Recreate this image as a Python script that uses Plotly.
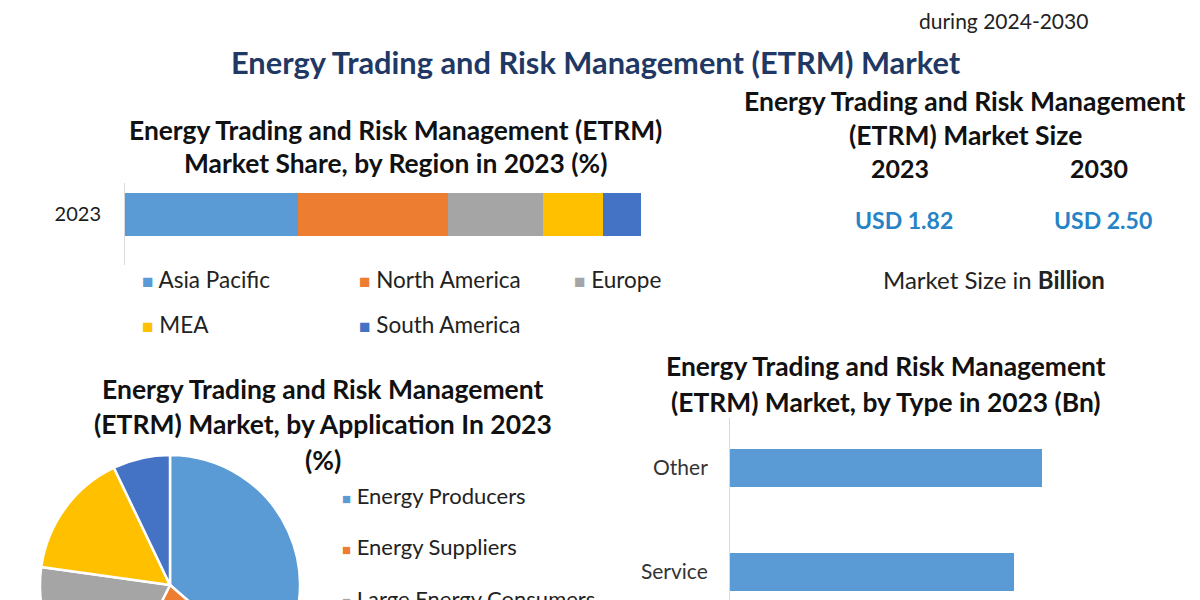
import plotly.graph_objects as go

W, H = 1200, 720  # page shows top 600px, like the cropped infographic

# ---------------- data ----------------
regions = ["Asia Pacific", "North America", "Europe", "MEA", "South America"]
region_share = [33.5, 29.0, 18.6, 11.5, 7.4]
region_colors = ["#5B9BD5", "#ED7D31", "#A5A5A5", "#FFC000", "#4472C4"]
region_year = ["2023"]

applications = ["Energy Producers", "Energy Suppliers", "Large Energy Consumers",
                "Energy Traders", "Others"]
application_share = [36.4, 21.0, 19.8, 15.7, 7.1]

types = ["Service", "Other"]
type_values = [0.71, 0.78]

size_years = ["2023", "2030"]
size_values = ["USD 1.82", "USD 2.50"]

FONT = "Lato"


def px(x):
    return x / W


def py(y):
    return (H - y) / H


fig = go.Figure()

# stacked region bar
for name, val, col in zip(regions, region_share, region_colors):
    fig.add_trace(go.Bar(
        x=[val], y=region_year, orientation="h", name=name,
        marker=dict(color=col, line=dict(width=0)), width=0.5,
        xaxis="x", yaxis="y", showlegend=False, hoverinfo="x+name"))

# type bar
fig.add_trace(go.Bar(
    x=type_values, y=types, orientation="h", width=0.36,
    marker=dict(color="#5B9BD5", line=dict(width=0)),
    xaxis="x2", yaxis="y2", showlegend=False))

# application pie
fig.add_trace(go.Pie(
    labels=applications, values=application_share, sort=False,
    direction="clockwise", rotation=0, textinfo="none",
    marker=dict(colors=region_colors, line=dict(color="white", width=2.5)),
    domain=dict(x=[px(40), px(300)], y=[py(715), py(455)]),
    showlegend=False))

fig.update_layout(
    width=W, height=H, margin=dict(l=0, r=0, t=0, b=0),
    paper_bgcolor="white", plot_bgcolor="white", barmode="stack",
    font=dict(family=FONT, color="#222"),
    xaxis=dict(domain=[px(125), px(641)], range=[0, 100], visible=False,
               fixedrange=True),
    yaxis=dict(domain=[py(265), py(183)], range=[-0.587, 0.366],
               showline=True, linecolor="#D9D9D9", linewidth=1,
               showgrid=False, zeroline=False, ticks="outside",
               ticklen=19, tickcolor="rgba(0,0,0,0)",
               tickfont=dict(size=20, color="#1a1a1a", family=FONT)),
    xaxis2=dict(domain=[px(730), px(1130)], range=[0, 1], visible=False,
                anchor="y2"),
    yaxis2=dict(domain=[py(620), py(418)], range=[-0.4615, 1.481],
                anchor="x2", showline=True, linecolor="#D9D9D9", linewidth=1,
                showgrid=False, zeroline=False, ticks="outside",
                ticklen=17, tickcolor="rgba(0,0,0,0)",
                tickfont=dict(size=21, color="#333", family=FONT)),
)

ann = []


def text(x, y, s, size, color="#111", bold=False, xanchor="center"):
    if bold:
        s = "<b>" + s + "</b>"
    ann.append(dict(x=px(x), y=py(y), xref="paper", yref="paper", text=s,
                    showarrow=False, xanchor=xanchor, yanchor="middle",
                    font=dict(size=size, color=color, family=FONT)))


text(1003, 20, "during 2024-2030", 21, "#222")
text(596, 62, "Energy Trading and Risk Management (ETRM) Market", 30.8,
     "#1F3864", bold=True)

# region chart title + legend
text(395, 130, "Energy Trading and Risk Management (ETRM)", 26.4, bold=True)
text(395, 163, "Market Share, by Region in 2023 (%)", 26.4, bold=True)
leg_pos = [(140, 280), (357, 280), (572, 280), (140, 325), (357, 325)]
for name, col, (lx, ly) in zip(regions, region_colors, leg_pos):
    text(lx, ly, '<span style="color:%s;font-size:19px">■</span> %s' % (col, name),
         22.5, "#222", xanchor="left")

# market size panel
text(965, 101, "Energy Trading and Risk Management", 26.5, bold=True)
text(965, 135, "(ETRM) Market Size", 26.5, bold=True)
for yr, val, cx in zip(size_years, size_values, [900, 1099]):
    text(cx, 168, yr, 25, bold=True)
    text(cx + 4, 220, val, 23, "#2683C6", bold=True)
text(994, 280, "Market Size in <b>Billion</b>", 24, "#222")

# application chart title + legend
text(323, 389, "Energy Trading and Risk Management", 26.5, bold=True)
text(323, 424, "(ETRM) Market, by Application In 2023", 26.5, bold=True)
text(323, 460, "(%)", 26.5, bold=True)
for i, (name, col) in enumerate(zip(applications, region_colors)):
    text(340, 495 + 51.5 * i,
         '<span style="color:%s;font-size:15px">■</span> %s' % (col, name),
         22, "#222", xanchor="left")

# type chart title
text(886, 366, "Energy Trading and Risk Management", 26.4, bold=True)
text(886, 402, "(ETRM) Market, by Type in 2023 (Bn)", 26.4, bold=True)

fig.update_layout(annotations=ann)
fig.write_html("out.html")
